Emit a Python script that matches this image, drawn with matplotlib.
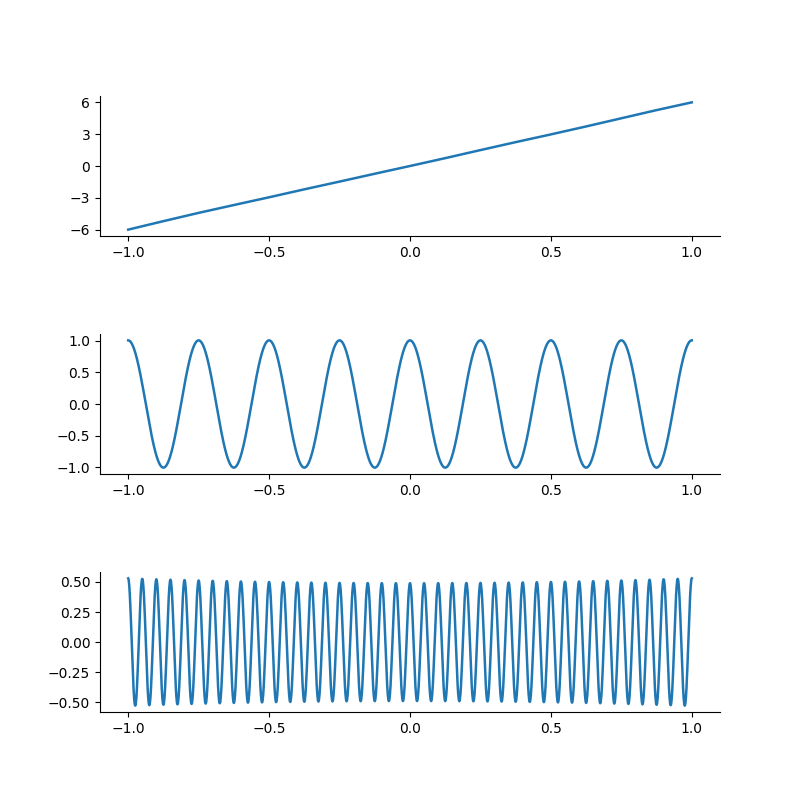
import numpy as np
import matplotlib
matplotlib.use("Agg")
import matplotlib.pyplot as plt

# ---- data ----
top_x = [-1.0, -0.875, -0.75, -0.625, -0.5, -0.375, -0.25, -0.125, 0.0,
         0.125, 0.25, 0.375, 0.5, 0.625, 0.75, 0.875, 1.0]
top_y = [-6.0, -5.2, -4.42, -3.68, -2.95, -2.2, -1.47, -0.73, 0.0,
         0.74, 1.5, 2.25, 2.98, 3.73, 4.5, 5.27, 6.0]
top_yticks = [-6, -3, 0, 3, 6]

mid_cycles = 8          # full periods between -1 and 1
mid_amplitude = 1.01
mid_yticks = [-1.0, -0.5, 0.0, 0.5, 1.0]

bot_cycles = 40         # full periods between -1 and 1
bot_amp_edge = 0.53     # peak height at x = +/-1
bot_amp_center = 0.49   # peak height at x = 0
bot_yticks = [-0.50, -0.25, 0.00, 0.25, 0.50]

xticks = [-1.0, -0.5, 0.0, 0.5, 1.0]

# ---- curves ----
x_dense = np.linspace(-1, 1, 2001)
mid_y = mid_amplitude * np.cos(mid_cycles * np.pi * x_dense)
bot_env = bot_amp_center + (bot_amp_edge - bot_amp_center) * x_dense ** 2
bot_y = bot_env * np.cos(bot_cycles * np.pi * x_dense)

fig, axes = plt.subplots(3, 1, figsize=(8, 8), dpi=100)
fig.subplots_adjust(left=0.125, right=0.9, top=0.88, bottom=0.11, hspace=0.7)

color = "#1f77b4"
axes[0].plot(top_x, top_y, color=color, lw=1.8)
axes[0].set_yticks(top_yticks)
axes[1].plot(x_dense, mid_y, color=color, lw=1.8)
axes[1].set_yticks(mid_yticks)
axes[2].plot(x_dense, bot_y, color=color, lw=1.8)
axes[2].set_yticks(bot_yticks)

for ax in axes:
    ax.set_xticks(xticks)
    ax.spines["top"].set_visible(False)
    ax.spines["right"].set_visible(False)

fig.savefig("out.png", dpi=100)
